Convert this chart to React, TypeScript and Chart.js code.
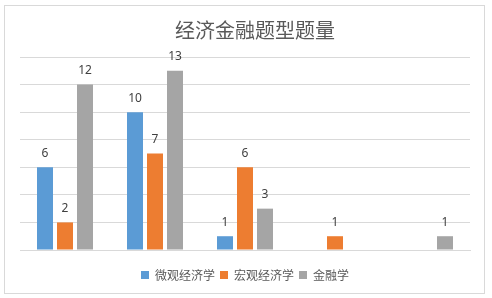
import React, { useEffect, useRef } from "react";
import { Chart, registerables } from "chart.js";

Chart.register(...registerables);

const title = "经济金融题型题量";
const categories = ["1", "2", "3", "4", "5"];
const seriesNames = ["微观经济学", "宏观经济学", "金融学"];
const microValues: (number | null)[] = [6, 10, 1, null, null];
const macroValues: (number | null)[] = [2, 7, 6, 1, null];
const financeValues: (number | null)[] = [12, 13, 3, null, 1];
const seriesColors = ["#5B9BD5", "#ED7D31", "#A5A5A5"];
const yMax = 14;
const yStep = 2;

const titlePlugin = {
  id: "customTitle",
  afterDraw(chart: any) {
    const ctx = chart.ctx;
    ctx.save();
    ctx.font = '20px "Noto Sans CJK SC"';
    ctx.fillStyle = "#595959";
    ctx.textAlign = "center";
    ctx.textBaseline = "middle";
    ctx.fillText(title, 255, 30);
    ctx.restore();
  },
};

const labelPlugin = {
  id: "valueLabels",
  afterDatasetsDraw(chart: any) {
    const ctx = chart.ctx;
    ctx.save();
    ctx.font = '12px "Noto Sans"';
    ctx.fillStyle = "#404040";
    ctx.textAlign = "center";
    ctx.textBaseline = "middle";
    chart.data.datasets.forEach((ds: any, i: number) => {
      const meta = chart.getDatasetMeta(i);
      meta.data.forEach((el: any, j: number) => {
        const v = ds.data[j];
        if (v === null || v === undefined) return;
        ctx.fillText(String(v), el.x, el.y - 14);
      });
    });
    ctx.restore();
  },
};

export default function App() {
  const ref = useRef<HTMLCanvasElement>(null);
  useEffect(() => {
    if (!ref.current) return;
    const values = [microValues, macroValues, financeValues];
    const chart = new Chart(ref.current, {
      type: "bar",
      data: {
        labels: categories,
        datasets: seriesNames.map((name, i) => ({
          label: name,
          data: values[i],
          backgroundColor: seriesColors[i],
          borderWidth: 0,
          categoryPercentage: 2 / 3,
          barPercentage: 0.8,
        })),
      },
      options: {
        responsive: false,
        animation: false,
        devicePixelRatio: 1,
        layout: { padding: { left: 20, right: 22, top: 57, bottom: 7 } },
        plugins: {
          title: { display: false },
          tooltip: { enabled: false },
          legend: {
            position: "bottom",
            labels: {
              boxWidth: 8,
              boxHeight: 8,
              padding: 5,
              color: "#595959",
              font: { size: 12, family: '"Noto Sans CJK SC"' },
            },
          },
        },
        scales: {
          x: {
            ticks: { display: false },
            grid: { display: false, drawTicks: false },
            border: { display: true, color: "#d9d9d9" },
            afterFit: (scale: any) => {
              scale.height = 14;
            },
          },
          y: {
            min: 0,
            max: yMax,
            ticks: { display: false, stepSize: yStep },
            grid: { color: "#d9d9d9", drawTicks: false },
            border: { display: false },
            afterFit: (scale: any) => {
              scale.width = 0;
            },
          },
        },
      },
      plugins: [titlePlugin, labelPlugin],
    });
    return () => chart.destroy();
  }, []);
  return (
    <div style={{ position: "fixed", left: 0, top: 0, width: 492, height: 298, background: "#fff" }}>
      <div
        style={{
          position: "absolute",
          left: 4,
          top: 5,
          width: 479,
          height: 287,
          border: "1px solid #d9d9d9",
        }}
      />
      <canvas ref={ref} width={492} height={298} style={{ position: "absolute", left: 0, top: 0 }} />
    </div>
  );
}
